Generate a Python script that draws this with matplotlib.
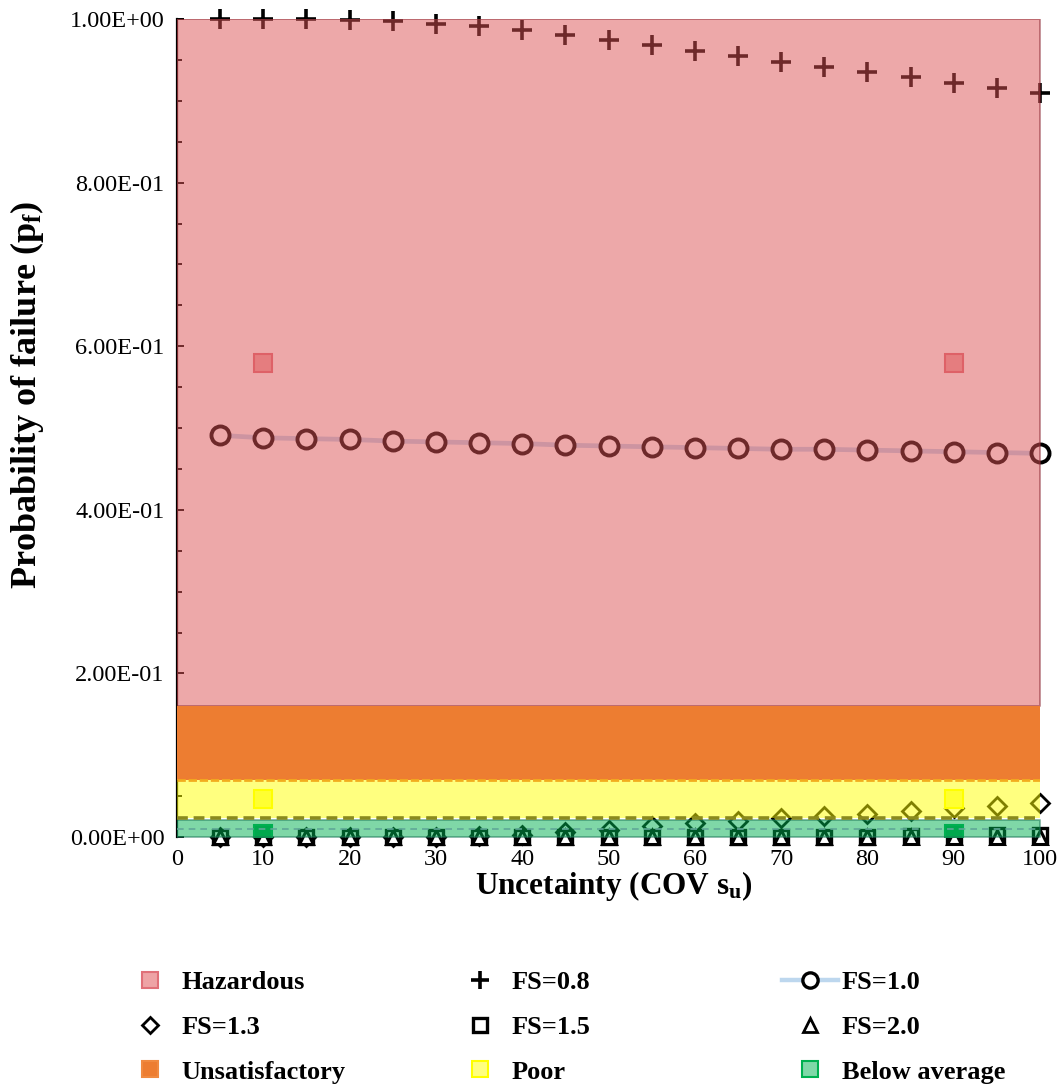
import matplotlib
matplotlib.use("Agg")
import matplotlib.pyplot as plt
from matplotlib.lines import Line2D
from matplotlib.ticker import MultipleLocator, FuncFormatter

# ---------------- data ----------------
cov = [5, 10, 15, 20, 25, 30, 35, 40, 45, 50, 55, 60, 65, 70, 75, 80, 85, 90, 95, 100]
fs08 = [1.000, 1.000, 1.000, 0.999, 0.997, 0.994, 0.991, 0.986, 0.980, 0.974,
        0.968, 0.961, 0.955, 0.948, 0.941, 0.935, 0.929, 0.922, 0.916, 0.910]
fs10 = [0.491, 0.488, 0.487, 0.486, 0.484, 0.483, 0.482, 0.481, 0.479, 0.478,
        0.477, 0.476, 0.475, 0.474, 0.474, 0.473, 0.472, 0.471, 0.470, 0.469]
fs13 = [0.0, 0.0, 0.0, 0.0, 0.0001, 0.0005, 0.0015, 0.003, 0.006, 0.009,
        0.013, 0.017, 0.0195, 0.023, 0.0255, 0.028, 0.032, 0.036, 0.038, 0.041]
fs15 = [0.0, 0.0, 0.0, 0.0, 0.0, 0.0, 0.0, 0.0, 0.0, 0.0,
        0.0, 0.0, 0.0001, 0.0002, 0.0004, 0.0006, 0.001, 0.0014, 0.002, 0.0027]
fs20 = [0.0] * 20

band_names = ["Hazardous", "Unsatisfactory", "Poor", "Below average"]
band_lo = [0.16, 0.07, 0.023, 0.0]
band_hi = [1.0, 0.16, 0.07, 0.021]
band_mid = [0.58, 0.115, 0.047, 0.0037]
band_x = [0, 100]
band_marker_x = [10, 90]

xticks = [0, 10, 20, 30, 40, 50, 60, 70, 80, 90, 100]

# ---------------- style ----------------
plt.rcParams["font.family"] = ["Liberation Serif", "DejaVu Serif"]
plt.rcParams["mathtext.fontset"] = "custom"
plt.rcParams["mathtext.rm"] = "Liberation Serif"
plt.rcParams["mathtext.it"] = "Liberation Serif:italic"
plt.rcParams["mathtext.bf"] = "Liberation Serif:bold"

W, H = 1061, 1085
fig = plt.figure(figsize=(W / 100, H / 100), dpi=100)
L, R, T, B = 177, 1040, 19, 837
ax = fig.add_axes([L / W, 1 - B / H, (R - L) / W, (B - T) / H])
ax.set_xlim(0, 100)
ax.set_ylim(0, 1.0)
ax.set_axisbelow(True)

for s in ["top", "right", "bottom"]:
    ax.spines[s].set_visible(False)
ax.spines["left"].set_color("black")
ax.spines["left"].set_linewidth(1.6)
ax.spines["left"].set_zorder(0.6)

ax.yaxis.set_major_locator(MultipleLocator(0.2))
ax.yaxis.set_minor_locator(MultipleLocator(0.05))
ax.yaxis.set_major_formatter(FuncFormatter(lambda v, p: "{:.2E}".format(v)))
ax.tick_params(axis="y", which="major", direction="in", length=5, width=1.4,
               labelsize=17.5, pad=9, color="black")
ax.tick_params(axis="y", which="minor", direction="in", length=3.5, width=1.4, color="black")
ax.set_xticks(xticks)
ax.tick_params(axis="x", length=0, labelsize=17.5, pad=8.5)

# ---------------- FS series ----------------
mk = dict(ls="none", clip_on=False, zorder=2)
ax.plot(cov, fs10, color="#BDD7EE", lw=3.4, zorder=1.8, solid_capstyle="round", clip_on=False)
ax.plot(cov, fs10, marker="o", ms=13, mfc="white", mec="black", mew=2.8, **mk)
ax.plot(cov, fs08, marker="+", ms=15, mec="black", mew=2.6, **mk)
ax.plot(cov, fs13, marker="D", ms=9, mfc="white", mec="black", mew=2.0, **mk)
ax.plot(cov, fs15, marker="s", ms=10.5, mfc="white", mec="black", mew=2.4, **mk)
ax.plot(cov, fs20, marker="^", ms=10.5, mfc="white", mec="black", mew=2.2, **mk)

# ---------------- bands ----------------
band_face = ["#DD5355", "#ED7D31", "#FFFF00", "#00B050"]
band_alpha = [0.5, 1.0, 0.5, 0.5]
band_edge = ["#8C2A35", "none", "none", "#1F7A5A"]
for i in range(4):
    ax.fill_between(band_x, [band_lo[i]] * 2, [band_hi[i]] * 2, facecolor=band_face[i],
                    edgecolor=band_edge[i], linewidth=1.4, alpha=band_alpha[i], zorder=3)

sq_face = ["#EEA9AA", "#ED7D31", "#FFFF66", "#00A04A"]
sq_edge = ["#E0707A", "#ED7D31", "#FFFF00", "#00B050"]
for i in range(4):
    ax.plot(band_marker_x, [band_mid[i]] * 2, marker="s", ms=13.5, mfc=sq_face[i],
            mec=sq_edge[i], mew=1.5, ls="none", zorder=2.5)

# band border lines
ax.plot(band_x, [band_hi[2]] * 2, color="#F2AC1E", lw=2.0, ls=(0, (3, 1)), zorder=3.5)
ax.plot(band_x, [band_lo[2]] * 2, color="#8A8A1E", lw=2.6, ls=(0, (3, 1.6)), zorder=3.5)
ax.plot(band_x, [0.0097] * 2, color="#5FA898", lw=1.2, ls=(0, (4, 3)), zorder=3.5)

# ---------------- labels ----------------
fig.text(614 / W, 1 - 886 / H, r"Uncetainty (COV s$_{\mathbf{u}}$)", fontsize=22.5,
         fontweight="bold", ha="center", va="center")
fig.text(27 / W, 1 - 395 / H, r"Probability of failure (p$_{\mathbf{f}}$)", fontsize=26,
         fontweight="bold", ha="center", va="center", rotation=90)

# ---------------- legend ----------------
h = {}
h["Hazardous"] = Line2D([], [], ls="none", marker="s", ms=11, mfc="#EEA3A5", mec="#E07078", mew=1.5)
h["FS=0.8"] = Line2D([], [], ls="none", marker="+", ms=13, mec="black", mew=2.6)
h["FS=1.0"] = Line2D([], [], color="#BDD7EE", lw=3.2, marker="o", ms=11, mfc="white", mec="black", mew=2.4)
h["FS=1.3"] = Line2D([], [], ls="none", marker="D", ms=8, mfc="white", mec="black", mew=2.0)
h["FS=1.5"] = Line2D([], [], ls="none", marker="s", ms=10, mfc="white", mec="black", mew=2.4)
h["FS=2.0"] = Line2D([], [], ls="none", marker="^", ms=10, mfc="white", mec="black", mew=2.0)
h["Unsatisfactory"] = Line2D([], [], ls="none", marker="s", ms=11, mfc="#ED7D31", mec="#F08A40", mew=1.5)
h["Poor"] = Line2D([], [], ls="none", marker="s", ms=11, mfc="#FFFF80", mec="#FFFF00", mew=1.5)
h["Below average"] = Line2D([], [], ls="none", marker="s", ms=11, mfc="#80D8A8", mec="#00B050", mew=1.5)

columns = [["Hazardous", "FS=1.3", "Unsatisfactory"],
           ["FS=0.8", "FS=1.5", "Poor"],
           ["FS=1.0", "FS=2.0", "Below average"]]
col_marker_x = [150, 480, 810]
hl = 2.1
fsz = 19
hl_px = hl * fsz * 100 / 72
for labels, cx in zip(columns, col_marker_x):
    fig.legend([h[k] for k in labels], labels, loc="upper left",
               bbox_to_anchor=((cx - hl_px / 2) / W, 1 - 971 / H),
               frameon=False, handlelength=hl, handletextpad=0.15,
               borderpad=0, borderaxespad=0, labelspacing=0.8,
               prop={"family": "Liberation Serif", "weight": "bold", "size": fsz})

fig.savefig("out.png", dpi=100)
